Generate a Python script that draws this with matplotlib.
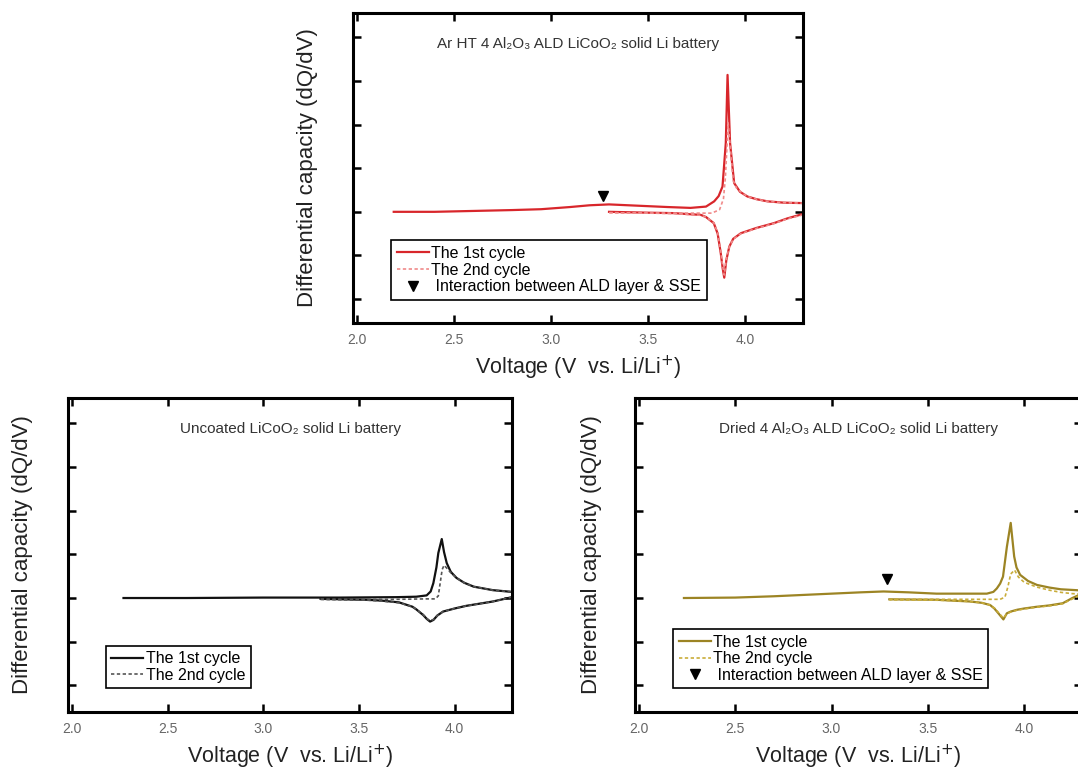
import numpy as np
import matplotlib.pyplot as plt

plt.rcParams['font.family'] = ['Liberation Sans', 'DejaVu Sans']

# ---- datos (V, dQ/dV en unidades de tick) ----
# Panel superior: Ar HT 4 Al2O3 ALD
ar_c1_v = [2.19, 2.40, 2.60, 2.80, 2.95, 3.10, 3.20, 3.30, 3.45, 3.60, 3.72, 3.80, 3.842, 3.865, 3.885,
           3.902, 3.911, 3.924, 3.945, 3.975, 4.014, 4.06, 4.117, 4.20, 4.30]
ar_c1_q = [0.00, 0.00, 0.02, 0.04, 0.06, 0.11, 0.15, 0.17, 0.14, 0.11, 0.09, 0.12, 0.24, 0.36, 0.58,
           1.58, 3.14, 1.58, 0.66, 0.46, 0.35, 0.29, 0.24, 0.21, 0.20]
ar_d1_v = [4.30, 4.22, 4.15, 4.06, 3.98, 3.94, 3.92, 3.905, 3.894, 3.886, 3.876, 3.86, 3.84, 3.80, 3.773,
           3.70, 3.634, 3.50, 3.30]
ar_d1_q = [-0.05, -0.15, -0.26, -0.37, -0.49, -0.62, -0.80, -1.10, -1.51, -1.30, -0.95, -0.50, -0.26,
           -0.12, -0.07, -0.05, -0.03, -0.02, 0.00]
ar_c2_v = [3.30, 3.50, 3.70, 3.83, 3.87, 3.89, 3.90, 3.908, 3.914, 3.925, 3.94, 3.96, 4.014, 4.06, 4.117,
           4.20, 4.30]
ar_c2_q = [-0.02, -0.03, -0.03, -0.03, 0.05, 0.30, 0.80, 1.50, 2.04, 1.50, 0.72, 0.52, 0.35, 0.29, 0.24,
           0.21, 0.20]
ar_d2_v = ar_d1_v
ar_d2_q = [-0.07, -0.16, -0.27, -0.38, -0.50, -0.63, -0.80, -1.08, -1.45, -1.25, -0.92, -0.48, -0.25,
           -0.12, -0.08, -0.06, -0.04, -0.03, -0.02]
ar_mark = (3.27, 0.37)

# Panel inferior izquierdo: sin recubrimiento
un_c1_v = [2.27, 2.60, 3.00, 3.40, 3.70, 3.80, 3.854, 3.875, 3.889, 3.905, 3.915, 3.933, 3.945, 3.959,
           3.98, 4.01, 4.05, 4.10, 4.20, 4.30]
un_c1_q = [0.00, 0.00, 0.01, 0.01, 0.02, 0.03, 0.06, 0.15, 0.34, 0.70, 1.03, 1.35, 1.05, 0.80, 0.60,
           0.46, 0.35, 0.26, 0.18, 0.14]
un_d1_v = [4.30, 4.25, 4.20, 4.13, 4.06, 4.00, 3.94, 3.91, 3.89, 3.872, 3.855, 3.836, 3.80, 3.78, 3.71,
           3.62, 3.54, 3.30]
un_d1_q = [0.02, -0.03, -0.08, -0.13, -0.18, -0.24, -0.31, -0.40, -0.50, -0.54, -0.48, -0.39, -0.26,
           -0.20, -0.10, -0.06, -0.04, -0.02]
un_c2_v = [3.30, 3.50, 3.70, 3.85, 3.90, 3.915, 3.925, 3.935, 3.945, 3.96, 3.98, 4.01, 4.05, 4.10, 4.20,
           4.30]
un_c2_q = [-0.03, -0.03, -0.03, -0.02, -0.02, 0.05, 0.35, 0.65, 0.75, 0.68, 0.58, 0.46, 0.35, 0.26,
           0.18, 0.14]
un_d2_v = un_d1_v
un_d2_q = [0.02, -0.03, -0.08, -0.13, -0.18, -0.24, -0.31, -0.40, -0.49, -0.52, -0.47, -0.38, -0.26,
           -0.20, -0.11, -0.07, -0.05, -0.03]

# Panel inferior derecho: Dried 4 Al2O3 ALD
dr_c1_v = [2.234, 2.50, 2.70, 2.85, 3.00, 3.15, 3.27, 3.40, 3.545, 3.70, 3.806, 3.84, 3.858, 3.875,
           3.89, 3.91, 3.93, 3.948, 3.96, 3.979, 4.02, 4.066, 4.13, 4.19, 4.27, 4.30]
dr_c1_q = [0.00, 0.01, 0.04, 0.07, 0.10, 0.13, 0.15, 0.13, 0.10, 0.10, 0.10, 0.14, 0.22, 0.33, 0.49,
           1.17, 1.72, 0.95, 0.70, 0.53, 0.39, 0.30, 0.24, 0.20, 0.18, 0.17]
dr_d1_v = [4.30, 4.25, 4.20, 4.13, 4.066, 4.00, 3.962, 3.93, 3.91, 3.892, 3.866, 3.845, 3.823, 3.78,
           3.72, 3.63, 3.545, 3.30]
dr_d1_q = [0.10, 0.00, -0.12, -0.17, -0.20, -0.24, -0.27, -0.31, -0.35, -0.49, -0.35, -0.24, -0.16,
           -0.11, -0.08, -0.06, -0.04, -0.03]
dr_c2_v = [3.30, 3.50, 3.70, 3.875, 3.90, 3.915, 3.93, 3.95, 3.97, 4.00, 4.066, 4.13, 4.19, 4.25, 4.30]
dr_c2_q = [-0.03, -0.03, -0.03, -0.03, 0.02, 0.25, 0.55, 0.64, 0.48, 0.36, 0.25, 0.18, 0.13, 0.10, 0.09]
dr_d2_v = dr_d1_v
dr_d2_q = [0.08, -0.02, -0.13, -0.18, -0.21, -0.25, -0.28, -0.32, -0.36, -0.46, -0.33, -0.23, -0.16,
           -0.11, -0.08, -0.06, -0.05, -0.04]
dr_mark = (3.29, 0.43)

x_ticks = [2.0, 2.5, 3.0, 3.5, 4.0]
y_ticks = [-2, -1, 0, 1, 2, 3, 4]

W, H = 1078, 772
fig = plt.figure(figsize=(W / 100, H / 100), dpi=100)


def px_axes(l, t, r, b):
    return fig.add_axes([l / W, 1 - b / H, (r - l) / W, (b - t) / H])


def panel(ax, titulo, c1, d1, c2, d2, col1, col2, marca, ylim, ls2, ylab_x):
    ax.plot(*c1, color=col1, lw=1.6, label='The 1st cycle')
    ax.plot(*d1, color=col1, lw=1.6)
    ax.plot(*c2, color=col2, lw=1.2, ls=ls2, label='The 2nd cycle')
    ax.plot(*d2, color=col2, lw=1.2, ls=ls2)
    if marca is not None:
        ax.plot([marca[0]], [marca[1]], ls='none', marker='v', color='black', ms=6.5,
                label=' Interaction between ALD layer & SSE')
    ax.set_xlim(1.98, 4.30)
    ax.set_ylim(*ylim)
    ax.set_xticks(x_ticks)
    ax.set_xticklabels(['%.1f' % v for v in x_ticks])
    ax.set_yticks(y_ticks)
    ax.set_yticklabels([])
    ax.tick_params(direction='in', length=6, width=1.8, top=True, right=True,
                   labelsize=10, labelcolor='#666666', pad=7)
    for s in ax.spines.values():
        s.set_linewidth(2.2)
    ax.text(0.5, 0.9, titulo, transform=ax.transAxes, ha='center', va='center',
            fontsize=11, color='#333333')
    ax.set_xlabel('Voltage (V  vs. Li/Li$^{+}$)', fontsize=15.5, color='#222222', labelpad=5)
    ax.set_ylabel('Differential capacity (dQ/dV)', fontsize=16, color='#222222')
    ax.yaxis.set_label_coords(ylab_x, 0.5)
    leg = ax.legend(loc='lower left', bbox_to_anchor=(0.085, 0.075), fontsize=11.5,
                    frameon=True, fancybox=False, edgecolor='black', framealpha=1,
                    handlelength=2.0, handletextpad=0.15, labelspacing=0.1,
                    borderpad=0.35, borderaxespad=0)
    leg.get_frame().set_linewidth(1.2)


ax1 = px_axes(353, 13, 803, 323)
panel(ax1, 'Ar HT 4 Al₂O₃ ALD LiCoO₂ solid Li battery',
      (ar_c1_v, ar_c1_q), (ar_d1_v, ar_d1_q), (ar_c2_v, ar_c2_q), (ar_d2_v, ar_d2_q),
      '#d8262b', '#f08a8a', ar_mark, (-2.55, 4.56), (0, (2, 1.5)), -0.078)

ax2 = px_axes(68, 398, 512, 712)
panel(ax2, 'Uncoated LiCoO₂ solid Li battery',
      (un_c1_v, un_c1_q), (un_d1_v, un_d1_q), (un_c2_v, un_c2_q), (un_d2_v, un_d2_q),
      '#111111', '#555555', None, (-2.61, 4.58), (0, (2, 1.5)), -0.079)

ax3 = px_axes(635, 398, 1082, 712)
panel(ax3, 'Dried 4 Al₂O₃ ALD LiCoO₂ solid Li battery',
      (dr_c1_v, dr_c1_q), (dr_d1_v, dr_d1_q), (dr_c2_v, dr_c2_q), (dr_d2_v, dr_d2_q),
      '#9c8424', '#c9ad3a', dr_mark, (-2.61, 4.58), (0, (2, 1.5)), -0.074)

fig.savefig('out.png', dpi=100)
